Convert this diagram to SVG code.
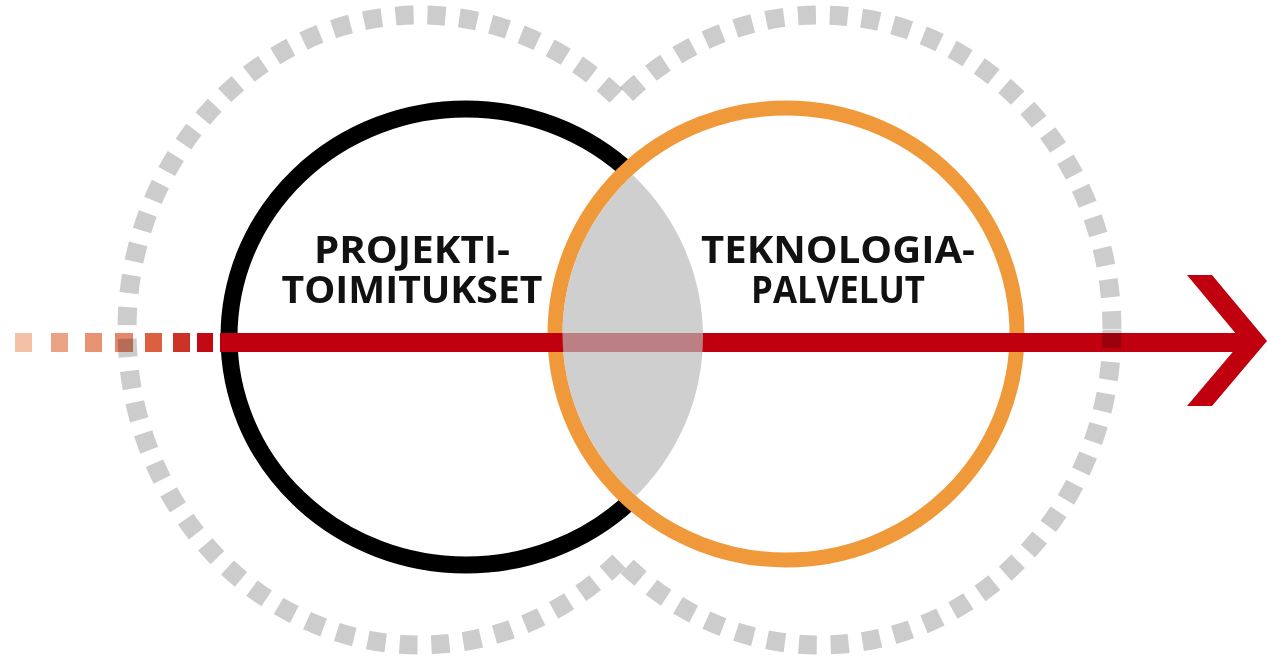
<svg xmlns="http://www.w3.org/2000/svg" width="1267" height="659" viewBox="0 0 1267 659">
<style>
.dash{fill:none;stroke:#cccccc;stroke-width:19;stroke-dasharray:18 14;mix-blend-mode:multiply}
.lbl{font-family:"Open Sans","Liberation Sans",sans-serif;font-weight:bold;font-size:38px;fill:#111111;text-anchor:middle}
</style>
<defs>
<clipPath id="blackClip"><ellipse cx="466" cy="337" rx="237" ry="228"/></clipPath>
<mask id="outsideRight" maskUnits="userSpaceOnUse" x="0" y="0" width="1267" height="659">
<rect width="1267" height="659" fill="#ffffff"/>
<ellipse cx="820" cy="330" rx="292" ry="315" fill="#000000"/>
</mask>
<mask id="outsideLeft" maskUnits="userSpaceOnUse" x="0" y="0" width="1267" height="659">
<rect width="1267" height="659" fill="#ffffff"/>
<ellipse cx="420" cy="330" rx="293" ry="315" fill="#000000"/>
</mask>
</defs>
<rect width="1267" height="659" fill="#ffffff"/>
<g id="projektitoimitukset">
<ellipse cx="466" cy="337" rx="237" ry="228" fill="none" stroke="#000000" stroke-width="17"/>
<text class="lbl" x="412" y="263" textLength="196" lengthAdjust="spacingAndGlyphs">PROJEKTI-</text>
<text class="lbl" x="412" y="303" textLength="261" lengthAdjust="spacingAndGlyphs">TOIMITUKSET</text>
</g>
<g id="teknologiapalvelut">
<ellipse cx="786" cy="334" rx="231" ry="226" fill="#ffffff" stroke="#f0993a" stroke-width="15"/>
<text class="lbl" x="838" y="263" textLength="274" lengthAdjust="spacingAndGlyphs">TEKNOLOGIA-</text>
<text class="lbl" x="838" y="303" textLength="174" lengthAdjust="spacingAndGlyphs">PALVELUT</text>
</g>
<g id="connectors">
<rect x="15" y="333" width="17" height="19" fill="#f4c0a6"/>
<rect x="51" y="333" width="17" height="19" fill="#eca285"/>
<rect x="85" y="333" width="17" height="19" fill="#e89274"/>
<rect x="115" y="333" width="18" height="19" fill="#e4876a"/>
<rect x="145" y="333" width="17" height="19" fill="#da603f"/>
<rect x="173" y="333" width="17" height="19" fill="#cc3326"/>
<rect x="197" y="333" width="16" height="19" fill="#c20914"/>
<rect x="220" y="333" width="1025" height="19" fill="#c0000f"/>
<polygon points="1187,275 1212,275 1267,341 1212,406 1187,406 1242,341" fill="#c0000f"/>
</g>
<g id="overlap">
<ellipse cx="786" cy="334" rx="223.5" ry="218.5" fill="#b9b9b9" fill-opacity="0.69" clip-path="url(#blackClip)"/>
</g>
<g id="rings">
<ellipse class="dash" cx="420" cy="330" rx="293" ry="315" mask="url(#outsideRight)"/>
<ellipse class="dash" cx="820" cy="330" rx="292" ry="315" mask="url(#outsideLeft)"/>
</g>
</svg>
